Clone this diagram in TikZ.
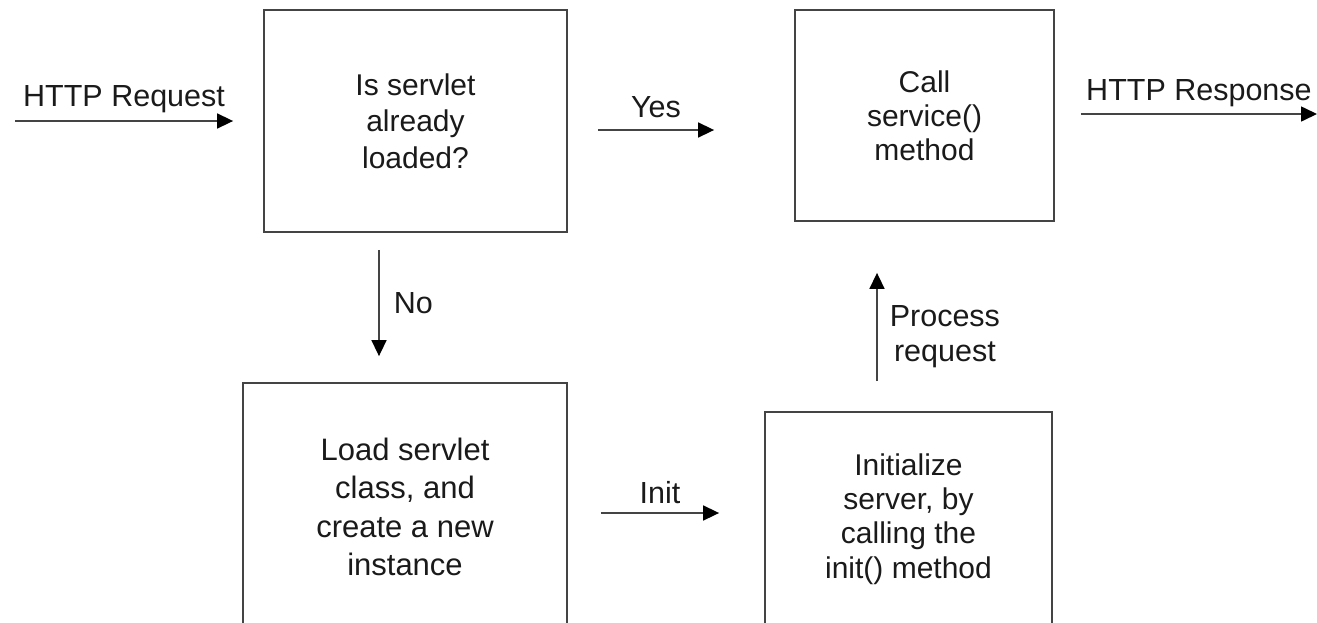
\documentclass[tikz,border=0pt]{standalone}
\usepackage{fontspec}
\setmainfont{Liberation Sans}
\usetikzlibrary{arrows.meta}
\definecolor{ln}{HTML}{444444}
\definecolor{tx}{HTML}{1A1A1A}
\begin{document}
\begin{tikzpicture}[x=1pt,y=-1pt,
  box/.style={draw=ln,line width=1.8pt,inner sep=0pt,align=center,text=tx},
  arr/.style={draw=ln,line width=1.6pt,-{Triangle[length=16pt,width=15pt,color=black]}},
  lbl/.style={text=tx,inner sep=0pt,font=\fontsize{30.5}{35}\selectfont,align=center}]
\useasboundingbox (0,0) rectangle (1317,622);
\clip (0,0) rectangle (1317,622);
\node[box,minimum width=303pt,minimum height=222pt,font=\fontsize{30}{36.5}\selectfont] (b1) at (415.5,121) {Is servlet\\already\\loaded?};
\node[box,minimum width=259pt,minimum height=211pt,font=\fontsize{30}{34}\selectfont] (b2) at (924.5,115.5) {Call\\service()\\method};
\node[box,minimum width=324pt,minimum height=248pt,font=\fontsize{31}{38.5}\selectfont] (b3) at (405,507) {Load servlet\\class, and\\create a new\\instance};
\node[box,minimum width=287pt,minimum height=214pt,font=\fontsize{30}{34.3}\selectfont] (b4) at (908.5,519) {Initialize\\server, by\\calling the\\init() method};
\coordinate (in) at (15,121);
\coordinate (out) at (1317,114);
\draw[arr] (in) -- ([xshift=-30pt]b1.west) node[lbl,midway,anchor=base,yshift=15pt] {HTTP Request};
\draw[arr] ([xshift=30pt,yshift=-9pt]b1.east) -- ([xshift=-80pt,yshift=-14.5pt]b2.west) node[lbl,midway,anchor=base,yshift=13pt] {Yes};
\draw[arr] ([xshift=26pt,yshift=1.5pt]b2.east) -- (out) node[lbl,midway,anchor=base,yshift=14pt] {HTTP Response};
\draw[arr] ([xshift=-36.5pt,yshift=-17pt]b1.south) -- ([xshift=-26pt,yshift=26pt]b3.north) node[lbl,midway,anchor=base west,xshift=14pt,yshift=-10pt] {No};
\draw[arr] ([xshift=33pt,yshift=-6pt]b3.east) -- ([xshift=-45pt,yshift=6pt]b4.west) node[lbl,midway,anchor=base,yshift=10pt] {Init};
\draw[arr] ([xshift=-31.5pt,yshift=30pt]b4.north) -- ([xshift=-47.5pt,yshift=-51pt]b2.south) node[lbl,midway,anchor=west,xshift=12pt,yshift=-10pt] {Process\\request};
\end{tikzpicture}
\end{document}
